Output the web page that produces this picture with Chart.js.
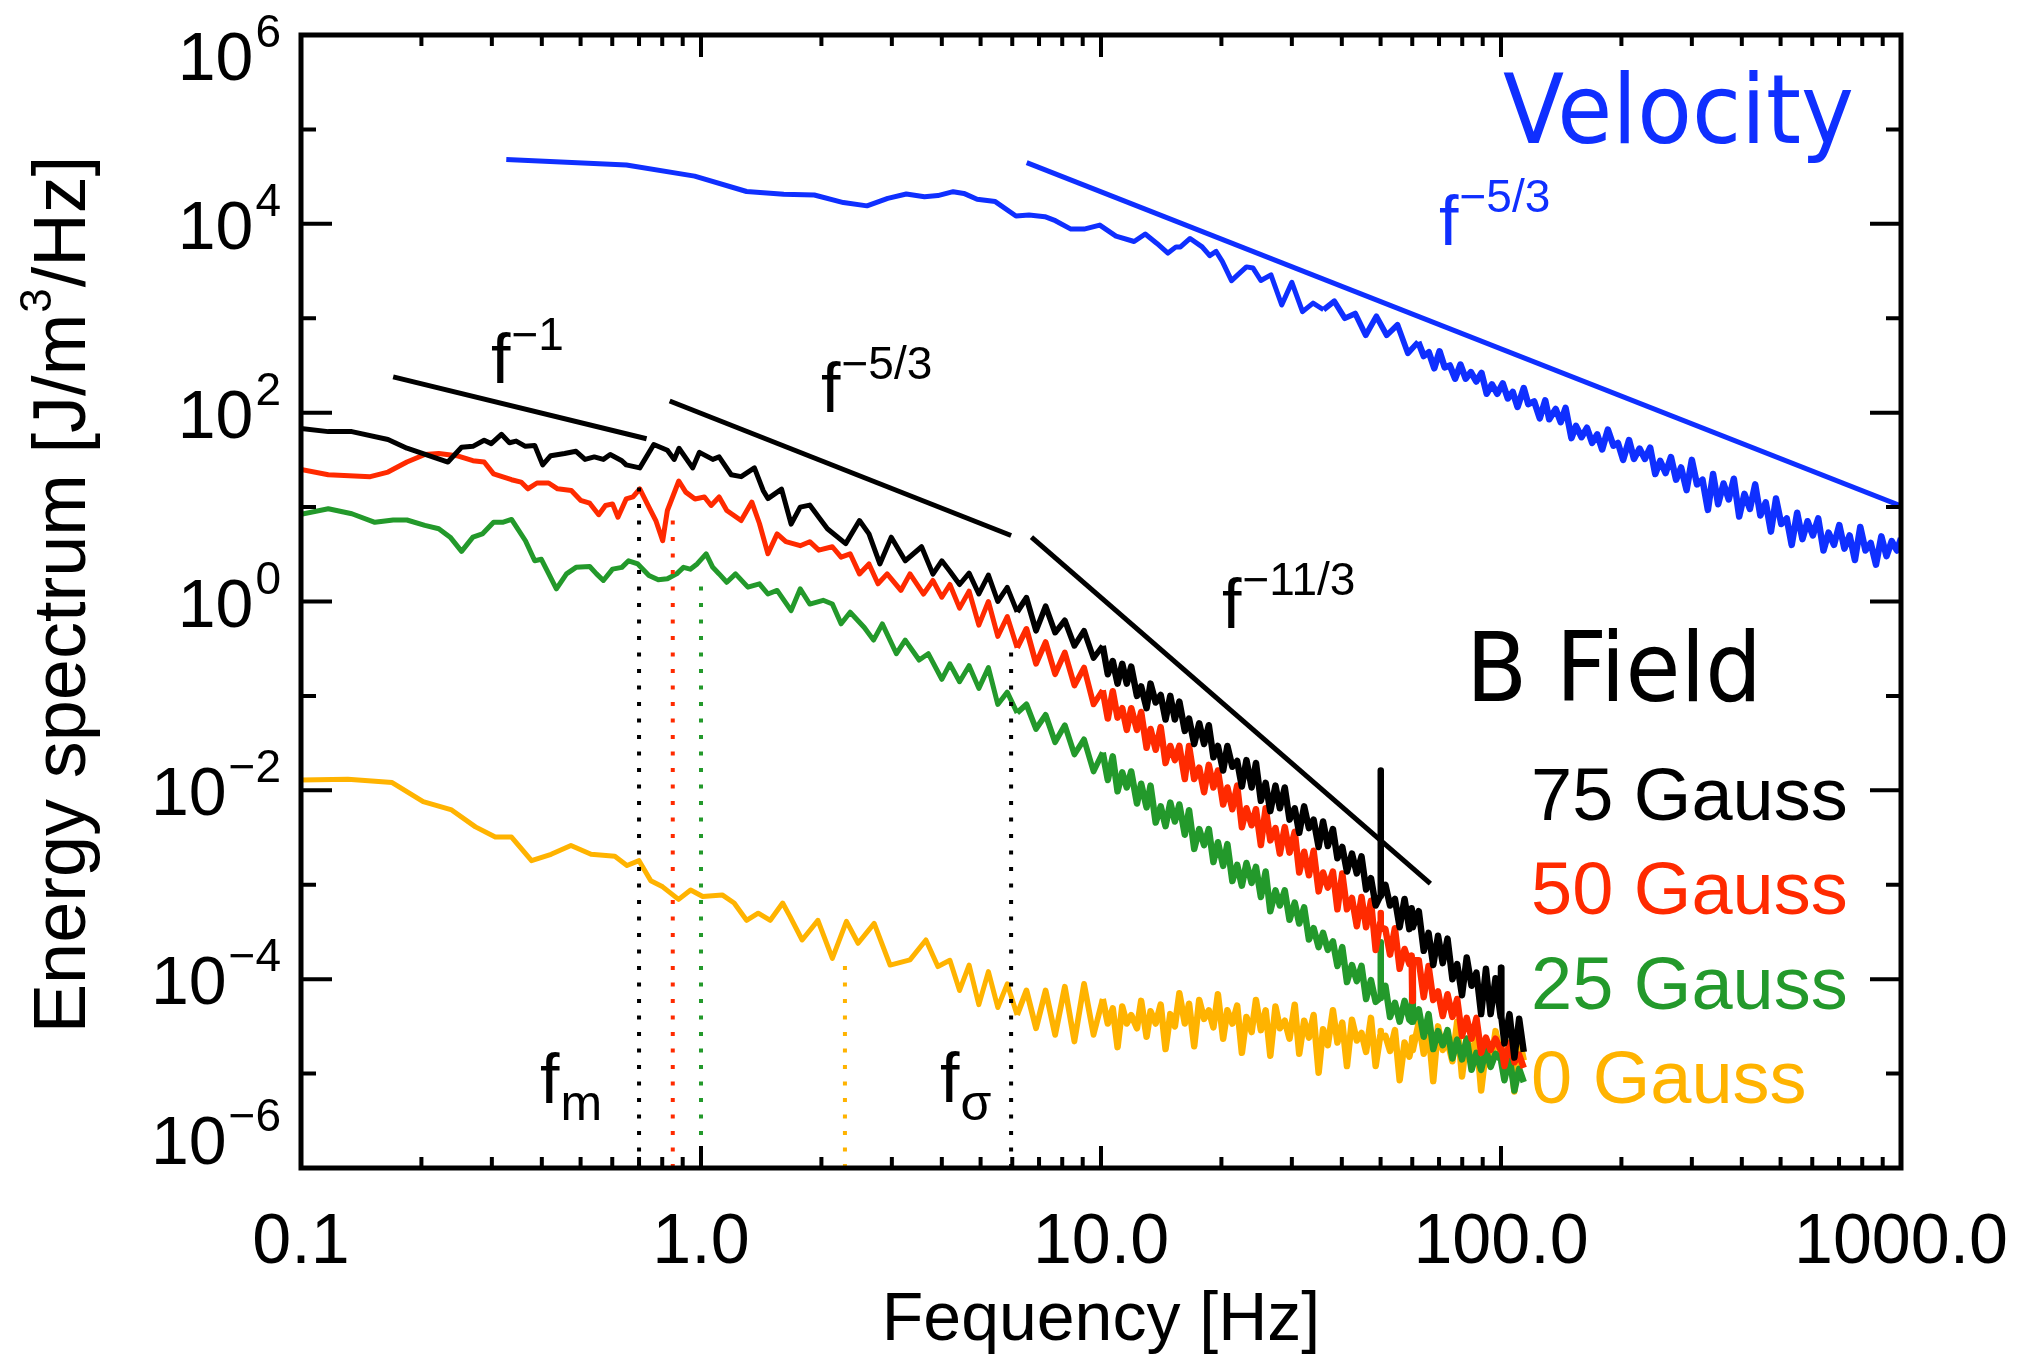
<!DOCTYPE html>
<html>
<head>
<meta charset="utf-8">
<title>Energy spectrum</title>
<script src="https://cdn.jsdelivr.net/npm/chart.js@4.4.0/dist/chart.umd.min.js"></script>
<style>
  html, body { margin: 0; padding: 0; background: #fff; }
  #wrap { width: 2024px; height: 1358px; }
</style>
</head>
<body>
<div id="wrap"><canvas id="chart" width="2024" height="1358"></canvas></div>
<script>
// ---- values (frequency in Hz, spectrum in J/m^3/Hz) ----

// 75 Gauss, low-frequency part
const f75Low = [0.100, 0.117, 0.134, 0.165, 0.184, 0.233, 0.252, 0.269, 0.287, 0.299, 0.317, 0.332, 0.345, 0.364, 0.384, 0.402, 0.421, 0.456, 0.487, 0.513, 0.541, 0.570, 0.593, 0.634, 0.650, 0.676, 0.703, 0.762, 0.824, 0.857, 0.881, 0.953, 0.991, 1.07, 1.11, 1.19, 1.26, 1.36, 1.43, 1.47, 1.59, 1.68, 1.77, 1.87, 1.97, 2.07, 2.30, 2.49, 2.63, 2.80, 2.99, 3.24, 3.56, 3.80, 4.00];
const e75Low = [68, 63, 63, 52, 42, 30, 43, 44, 51, 47, 59, 48, 50, 44, 45, 28, 35, 37, 39, 32, 34, 32, 36, 31, 28, 27, 26, 46, 40, 32, 42, 26, 38, 32, 34, 22, 21, 26, 15, 12.3, 15.5, 6.6, 10, 10.5, 7.8, 5.9, 4.1, 7.2, 5.2, 2.5, 4.8, 2.7, 3.8, 1.95, 2.7];

// 50 Gauss, low-frequency part
const f50Low = [0.100, 0.117, 0.149, 0.165, 0.184, 0.204, 0.221, 0.245, 0.269, 0.287, 0.303, 0.336, 0.355, 0.369, 0.389, 0.416, 0.438, 0.474, 0.500, 0.527, 0.555, 0.577, 0.601, 0.620, 0.650, 0.676, 0.703, 0.741, 0.771, 0.802, 0.824, 0.880, 0.916, 0.966, 1.02, 1.06, 1.11, 1.16, 1.26, 1.34, 1.40, 1.47, 1.55, 1.63, 1.77, 1.87, 1.97, 2.13, 2.24, 2.36, 2.49, 2.63, 2.77, 2.92, 3.16, 3.33, 3.60, 3.80, 4.00];
const e50Low = [25, 22, 21, 23.5, 30, 36, 37, 35, 31, 30, 22.5, 19.5, 18.4, 15.6, 18, 18, 15.6, 15, 11.8, 11, 8.3, 10.4, 10.8, 7.8, 12.2, 12.8, 15.6, 10, 7.2, 4.4, 9.2, 18.9, 14.4, 12.2, 12.8, 10.4, 12.8, 9.2, 7.2, 11.3, 6.7, 3.2, 5.2, 4.3, 3.9, 4.3, 3.5, 3.8, 2.95, 3.2, 1.96, 2.5, 1.54, 1.96, 1.31, 1.96, 1.2, 1.67, 1.11];

// 25 Gauss, low-frequency part
const f25Low = [0.100, 0.117, 0.134, 0.153, 0.170, 0.184, 0.204, 0.221, 0.236, 0.252, 0.269, 0.284, 0.303, 0.319, 0.336, 0.364, 0.384, 0.399, 0.435, 0.461, 0.487, 0.527, 0.548, 0.570, 0.601, 0.634, 0.659, 0.695, 0.741, 0.782, 0.824, 0.869, 0.904, 0.940, 0.978, 1.03, 1.07, 1.11, 1.16, 1.22, 1.31, 1.40, 1.47, 1.55, 1.68, 1.77, 1.87, 2.02, 2.13, 2.24, 2.36, 2.56, 2.70, 2.84, 3.08, 3.24, 3.51, 3.70, 4.00];
const e25Low = [8.4, 9.6, 8.5, 6.9, 7.3, 7.3, 6.4, 5.9, 4.8, 3.4, 4.8, 5.2, 6.9, 6.9, 7.4, 4.4, 2.7, 2.8, 1.36, 1.96, 2.3, 2.35, 1.96, 1.67, 2.2, 2.3, 2.7, 2.5, 1.89, 1.70, 1.74, 1.96, 2.3, 2.2, 2.5, 3.2, 2.3, 1.96, 1.6, 1.96, 1.42, 1.54, 1.2, 1.31, 0.80, 1.36, 0.94, 1.03, 0.94, 0.58, 0.77, 0.53, 0.39, 0.58, 0.28, 0.39, 0.24, 0.28, 0.15];

// 0 Gauss, low-frequency part
const f0Low = [0.100, 0.131, 0.169, 0.202, 0.238, 0.273, 0.306, 0.336, 0.377, 0.422, 0.473, 0.531, 0.609, 0.653, 0.700, 0.749, 0.802, 0.879, 0.942, 1.01, 1.13, 1.21, 1.30, 1.39, 1.49, 1.60, 1.67, 1.79, 1.96, 2.13, 2.31, 2.47, 2.71, 2.97, 3.33, 3.65, 3.91];
const e0Low = [0.0129, 0.0131, 0.0121, 0.0076, 0.0062, 0.0041, 0.0032, 0.0032, 0.0018, 0.0021, 0.0026, 0.0021, 0.0020, 0.0016, 0.0018, 0.0011, 9.5e-4, 7.0e-4, 8.8e-4, 7.5e-4, 7.8e-4, 6.4e-4, 4.2e-4, 5.0e-4, 4.2e-4, 6.4e-4, 4.6e-4, 2.6e-4, 4.2e-4, 1.66e-4, 4.1e-4, 2.4e-4, 3.9e-4, 1.41e-4, 1.60e-4, 2.6e-4, 1.36e-4];

// noisy high-frequency part: shared frequencies, values given as log10 of the spectrum
const fDense = [4.19, 4.43, 4.68, 4.95, 5.23, 5.52, 5.83, 6.17, 6.51, 6.88, 7.27, 7.68, 8.12, 8.58, 9.07, 9.58,
  10.1, 10.4, 10.7, 11.0, 11.3, 11.6, 11.9, 12.3, 12.6, 13.0, 13.3, 13.7, 14.1, 14.5, 14.9, 15.3,
  15.7, 16.2, 16.6, 17.1, 17.6, 18.1, 18.6, 19.1, 19.6, 20.2, 20.7, 21.3, 21.9, 22.5, 23.1, 23.8,
  24.4, 25.1, 25.8, 26.5, 27.3, 28.0, 28.8, 29.6, 30.5, 31.3, 32.2, 33.1, 34.0, 35.0, 35.9, 36.9,
  38.0, 39.0, 40.1, 41.2, 42.4, 43.6, 44.8, 46.0, 47.3, 48.6,
  49.9, 50.0, 50.1,
  51.4, 52.8, 54.3, 55.8, 57.4, 59.0,
  59.8, 60.0, 60.2,
  62.3, 64.1, 65.9, 67.7, 69.6, 71.5, 73.5, 75.6, 77.7, 79.9, 82.1, 84.4, 86.8, 89.2, 91.7, 94.2, 96.9,
  99.8, 100, 100.2,
  102, 105, 108, 111, 114];
const log75Dense = [0.32, 0.18, 0.30, 0.08, 0.28, 0.0, 0.15, -0.11, 0.04, -0.31, -0.05, -0.33, -0.20, -0.47, -0.31, -0.60,
  -0.47, -0.77, -0.63, -0.87, -0.66, -0.87, -0.69, -1.00, -0.90, -1.13, -0.87, -1.07, -0.99, -1.25, -1.00, -1.25,
  -1.06, -1.37, -1.24, -1.51, -1.29, -1.51, -1.31, -1.65, -1.53, -1.79, -1.53, -1.75, -1.69, -1.96, -1.68, -1.97,
  -1.71, -2.11, -1.92, -2.22, -1.95, -2.19, -1.97, -2.31, -2.19, -2.45, -2.17, -2.40, -2.31, -2.60, -2.33, -2.59,
  -2.41, -2.72, -2.60, -2.86, -2.67, -2.88, -2.70, -3.05, -2.93, -3.22,
  -3.12, -1.79, -3.12,
  -3.00, -3.22, -3.15, -3.45, -3.15, -3.47,
  -3.25, -3.30, -3.45,
  -3.28, -3.70, -3.51, -3.85, -3.54, -3.83, -3.57, -4.00, -3.84, -4.17, -3.77, -4.07, -3.93, -4.37, -3.89, -4.37, -3.99,
  -4.40, -3.88, -4.40,
  -4.68, -4.37, -4.83, -4.42, -4.77];
const log50Dense = [0.18, -0.07, 0.11, -0.25, 0.0, -0.37, -0.16, -0.49, -0.29, -0.66, -0.43, -0.77, -0.54, -0.89, -0.70, -1.09,
  -0.94, -1.24, -0.95, -1.23, -1.13, -1.36, -1.13, -1.36, -1.17, -1.55, -1.35, -1.57, -1.33, -1.71, -1.53, -1.68,
  -1.53, -1.88, -1.53, -1.88, -1.76, -2.02, -1.73, -1.97, -1.79, -2.15, -1.97, -2.20, -1.95, -2.39, -2.19, -2.37,
  -2.20, -2.58, -2.19, -2.53, -2.40, -2.67, -2.39, -2.66, -2.44, -2.87, -2.65, -2.90, -2.64, -3.07, -2.87, -3.03,
  -2.86, -3.26, -2.88, -3.26, -3.14, -3.44, -3.13, -3.45, -3.17, -3.69,
  -3.40, -3.30, -3.45,
  -3.47, -3.74, -3.46, -3.89, -3.68, -3.84,
  -3.75, -4.23, -3.80,
  -3.80, -4.19, -3.86, -4.22, -4.13, -4.39, -4.16, -4.40, -4.21, -4.60, -4.41, -4.63, -4.41, -4.78, -4.62, -4.75, -4.63,
  -4.75, -4.70, -4.72,
  -4.92, -4.68, -4.88, -4.80, -4.94];
const log25Dense = [-0.66, -0.85, -0.68, -0.92, -0.70, -1.09, -0.96, -1.18, -1.09, -1.35, -1.20, -1.49, -1.31, -1.62, -1.46, -1.80,
  -1.60, -1.89, -1.64, -2.01, -1.81, -1.97, -1.80, -2.14, -1.93, -2.18, -1.95, -2.34, -2.17, -2.38, -2.13, -2.33,
  -2.15, -2.47, -2.21, -2.62, -2.41, -2.58, -2.41, -2.76, -2.55, -2.80, -2.57, -2.96, -2.79, -3.01, -2.77, -2.98,
  -2.81, -3.13, -2.86, -3.28, -3.06, -3.22, -3.06, -3.37, -3.19, -3.41, -3.24, -3.58, -3.46, -3.66, -3.51, -3.69,
  -3.60, -3.86, -3.66, -4.03, -3.85, -4.02, -3.86, -4.21, -4.01, -4.24,
  -4.20, -3.61, -4.20,
  -4.07, -4.40, -4.25, -4.45, -4.23, -4.43,
  -4.45, -4.12, -4.45,
  -4.32, -4.61, -4.37, -4.74, -4.55, -4.70, -4.54, -4.84, -4.64, -4.85, -4.63, -4.96, -4.78, -4.96, -4.75, -4.93, -4.79,
  -4.85, -4.82, -4.88,
  -5.07, -4.82, -5.18, -4.95, -5.09];
const log0Dense = [-3.80, -4.12, -3.85, -4.27, -3.92, -4.30, -4.05, -4.38, -4.12, -4.52, -4.12, -4.59, -4.08, -4.66, -4.05, -4.59,
  -4.21, -4.47, -4.31, -4.72, -4.29, -4.47, -4.38, -4.52, -4.23, -4.61, -4.34, -4.47, -4.27, -4.74, -4.37, -4.50,
  -4.15, -4.47, -4.26, -4.71, -4.22, -4.42, -4.33, -4.51, -4.16, -4.63, -4.33, -4.47, -4.28, -4.78, -4.40, -4.56,
  -4.22, -4.54, -4.33, -4.81, -4.29, -4.52, -4.44, -4.63, -4.27, -4.79, -4.44, -4.62, -4.38, -4.99, -4.53, -4.70,
  -4.33, -4.67, -4.46, -4.92, -4.43, -4.65, -4.57, -4.77, -4.41, -4.92,
  -4.60, -4.55, -4.62,
  -4.60, -4.76, -4.54, -5.07, -4.67, -4.82,
  -4.70, -4.62, -4.75,
  -4.46, -4.79, -4.55, -5.08, -4.50, -4.75, -4.66, -4.87, -4.45, -5.03, -4.63, -4.83, -4.59, -5.18, -4.75, -4.92, -4.55,
  -4.80, -4.75, -4.85,
  -4.90, -4.67, -5.19, -4.62, -4.86];

// velocity spectrum
const fVelLow = [0.326, 0.651, 0.964, 1.30, 1.61, 1.92, 2.27, 2.60, 2.93, 3.26, 3.62, 3.91, 4.27, 4.54, 4.90, 5.44, 6.13, 6.61, 7.24, 7.69, 8.41, 9.07, 9.93, 10.9, 12.1, 12.9, 13.8, 14.7, 15.4, 15.8, 16.7, 17.9, 18.7, 19.4, 20.1, 21.2, 22.0, 23.1, 24.0];
const eVelLow = [4.8e4, 4.2e4, 3.2e4, 2.2e4, 2.06e4, 2.02e4, 1.68e4, 1.55e4, 1.86e4, 2.07e4, 1.94e4, 1.99e4, 2.19e4, 2.1e4, 1.82e4, 1.72e4, 1.21e4, 1.24e4, 1.19e4, 1.08e4, 8.8e3, 8.8e3, 9.7e3, 7.4e3, 6.5e3, 7.8e3, 6.2e3, 4.9e3, 5.7e3, 5.7e3, 7.0e3, 5.7e3, 4.6e3, 5.1e3, 4.0e3, 2.5e3, 2.9e3, 3.5e3, 3.4e3];
const fVelDense = [25.1, 26.6, 28.3, 30.0, 31.9, 33.9, 36.0, 38.3, 40.7, 43.2, 45.9, 48.8, 51.8, 55.1, 58.5,
  62.1, 64.1, 66.0, 68.1, 70.2, 72.3, 74.5, 76.8, 79.2, 81.6, 84.1, 86.7, 89.4, 92.1, 94.9, 97.9, 101,
  104, 107, 110, 114, 117, 121, 125, 129, 132, 137, 141, 145, 150, 154, 159, 164,
  169, 174, 179, 185, 191, 196, 202, 209, 215, 222, 229, 236, 243, 250, 258, 266,
  274, 282, 291, 300, 309, 319, 329, 339, 349, 360, 371, 382, 394, 406, 419, 432,
  445, 459, 473, 487, 502, 518, 533, 550, 567, 584, 602, 621, 640, 659, 680, 701,
  722, 744, 767, 791, 815, 840, 866, 893, 920, 948, 977, 1000];
const logVelDense = [3.40, 3.46, 3.14, 3.38, 3.07, 3.16, 3.09, 3.18, 3.00, 3.05, 2.82, 3.02, 2.82, 2.93, 2.63,
  2.75, 2.60, 2.64, 2.47, 2.65, 2.48, 2.50, 2.36, 2.51, 2.36, 2.43, 2.33, 2.42, 2.20, 2.30, 2.20, 2.31,
  2.15, 2.22, 2.06, 2.26, 2.09, 2.12, 1.94, 2.13, 1.93, 2.04, 1.90, 2.05, 1.73, 1.86, 1.74, 1.84,
  1.68, 1.77, 1.61, 1.82, 1.65, 1.68, 1.50, 1.71, 1.51, 1.62, 1.51, 1.63, 1.35, 1.49, 1.36, 1.53,
  1.29, 1.42, 1.18, 1.50, 1.24, 1.29, 0.97, 1.35, 1.03, 1.25, 1.08, 1.30, 0.90, 1.14, 0.98, 1.24,
  0.91, 1.05, 0.74, 1.09, 0.82, 0.88, 0.60, 0.94, 0.66, 0.85, 0.70, 0.88, 0.54, 0.73, 0.60, 0.81,
  0.56, 0.70, 0.44, 0.79, 0.54, 0.62, 0.39, 0.69, 0.48, 0.64, 0.54, 0.67];

// power-law guide lines: [start, end]
const fitLowF = [0.170, 0.731],  fitLowE = [239, 53];        // f^-1
const fitMidF = [0.835, 5.96],   fitMidE = [133, 5.0];       // f^-5/3
const fitHighF = [6.7, 66.6],    fitHighE = [4.8, 1.03e-3];  // f^-11/3
const fitVelF = [6.52, 1000],    fitVelE = [4.45e4, 10.3];   // f^-5/3 (velocity)

// dotted markers: frequency and top value
const markF = [0.70, 0.85, 1.0, 2.29, 5.96];
const markTop = [17.7, 8.2, 1.6, 1.4e-4, 0.38];

// axes
const xTickValues = [0.1, 1, 10, 100, 1000];
const xTickLabels = ['0.1', '1.0', '10.0', '100.0', '1000.0'];
const yTickExps = [6, 4, 2, 0, -2, -4, -6];

const legendNames = ['75 Gauss', '50 Gauss', '25 Gauss', '0 Gauss'];

// ---- styling ----
const C_BLACK = '#000000';
const C_RED = '#ff2a00';
const C_GREEN = '#23992b';
const C_ORANGE = '#ffb300';
const C_BLUE = '#0f2fff';
const FONT = '"Liberation Sans", Arial, Helvetica, sans-serif';
const HAND = '"Comic Sans MS", "DejaVu Sans", sans-serif';

const pts = (fs, es) => fs.map((f, i) => ({ x: f, y: es[i] }));
const unlog = arr => arr.map(v => Math.pow(10, v));

// denseFrom: frequency above which the noisy part is drawn with a heavier pen
function curve(label, data, color, width, order, dash, denseFrom) {
  const set = {
    label,
    data,
    borderColor: color,
    borderWidth: width,
    borderDash: dash || [],
    borderCapStyle: 'butt',
    borderJoinStyle: dash ? 'miter' : 'round',
    pointRadius: 0,
    tension: 0,
    fill: false,
    order
  };
  if (denseFrom) {
    set.segment = {
      borderWidth: c => {
        const f = c.p0.parsed.x;
        if (f >= denseFrom) return width + 1.5;
        if (f >= denseFrom * 0.6) return width + 0.75;
        return width;
      }
    };
  }
  return set;
}

const markColors = [C_BLACK, C_RED, C_GREEN, C_ORANGE, C_BLACK];
const markSets = markF.map((f, i) =>
  curve('mark' + i, [{ x: f, y: 1e-6 }, { x: f, y: markTop[i] }], markColors[i], 4, 2, [4, 12.5]));

const datasets = [
  curve('fit -1', pts(fitLowF, fitLowE), C_BLACK, 5, 1),
  curve('fit -5/3', pts(fitMidF, fitMidE), C_BLACK, 5, 1),
  curve('fit -11/3', pts(fitHighF, fitHighE), C_BLACK, 5, 1),
  curve('fit vel', pts(fitVelF, fitVelE), C_BLUE, 5, 1),
  ...markSets,
  curve('Velocity', pts(fVelLow.concat(fVelDense), eVelLow.concat(unlog(logVelDense))), C_BLUE, 5, 3, null, 60),
  curve('75 Gauss', pts(f75Low.concat(fDense), e75Low.concat(unlog(log75Dense))), C_BLACK, 5, 3, null, 9.9),
  curve('50 Gauss', pts(f50Low.concat(fDense), e50Low.concat(unlog(log50Dense))), C_RED, 5, 4, null, 9.9),
  curve('25 Gauss', pts(f25Low.concat(fDense), e25Low.concat(unlog(log25Dense))), C_GREEN, 5, 5, null, 9.9),
  curve('0 Gauss', pts(f0Low.concat(fDense), e0Low.concat(unlog(log0Dense))), C_ORANGE, 5, 6, null, 9.9)
];

// text with a raised (or lowered) smaller part
function textWithScript(ctx, x, base, main, small, shift, bigPx, smallPx, color) {
  ctx.fillStyle = color;
  ctx.textAlign = 'left';
  ctx.font = bigPx + 'px ' + FONT;
  ctx.fillText(main, x, base);
  const w = ctx.measureText(main).width;
  ctx.font = smallPx + 'px ' + FONT;
  ctx.fillText(small, x + w + 1, base + shift);
}

// hand-lettered titles, squeezed to the width they take in the figure
function fittedText(ctx, text, x, base, width, px, color) {
  ctx.save();
  ctx.font = px + 'px ' + HAND;
  ctx.fillStyle = color;
  ctx.textAlign = 'left';
  const w = ctx.measureText(text).width;
  ctx.translate(x, base);
  ctx.scale(width / w, 1);
  ctx.fillText(text, 0, 0);
  ctx.restore();
}

const idlFrame = {
  id: 'idlFrame',
  beforeDraw(chart) {
    const { ctx, width, height } = chart;
    ctx.save();
    ctx.fillStyle = '#fff';
    ctx.fillRect(0, 0, width, height);
    ctx.restore();
  },
  afterDatasetsDraw(chart) {
    const { ctx, chartArea: a, scales: { x, y } } = chart;
    ctx.save();
    ctx.strokeStyle = '#000';
    ctx.fillStyle = '#000';
    ctx.textBaseline = 'alphabetic';

    // inward ticks on all four sides
    ctx.lineWidth = 4;
    ctx.beginPath();
    for (let d = -1; d <= 3; d++) {
      for (let k = 1; k <= 9; k++) {
        const v = k * Math.pow(10, d);
        if (v > 1000) break;
        const px = x.getPixelForValue(v);
        const len = k === 1 ? 22 : 11;
        ctx.moveTo(px, a.bottom); ctx.lineTo(px, a.bottom - len);
        ctx.moveTo(px, a.top); ctx.lineTo(px, a.top + len);
      }
    }
    for (let e = -6; e <= 6; e++) {
      const py = y.getPixelForValue(Math.pow(10, e));
      const len = e % 2 === 0 ? 31 : 15;
      ctx.moveTo(a.left, py); ctx.lineTo(a.left + len, py);
      ctx.moveTo(a.right, py); ctx.lineTo(a.right - len, py);
    }
    ctx.stroke();

    // frame
    ctx.lineWidth = 5;
    ctx.strokeRect(a.left, a.top, a.right - a.left, a.bottom - a.top);

    // x tick labels
    ctx.font = '70px ' + FONT;
    ctx.textAlign = 'center';
    xTickValues.forEach((v, i) => {
      ctx.fillText(xTickLabels[i], x.getPixelForValue(v), a.bottom + 95);
    });

    // y tick labels 10^n
    yTickExps.forEach(e => {
      const py = y.getPixelForValue(Math.pow(10, e));
      const base = Math.min(Math.max(py + 25, a.top + 45), a.bottom - 4);
      const sup = e < 0 ? '\u2212' + (-e) : String(e);
      ctx.textAlign = 'right';
      ctx.font = '46px ' + FONT;
      ctx.fillText(sup, a.left - 20, base - 33);
      const w = ctx.measureText(sup).width;
      ctx.font = '68px ' + FONT;
      ctx.fillText('10', a.left - 22 - w, base);
    });

    // axis titles
    ctx.textAlign = 'center';
    ctx.font = '68px ' + FONT;
    ctx.fillText('Fequency [Hz]', (a.left + a.right) / 2, a.bottom + 172);

    ctx.save();
    ctx.translate(85, (a.top + a.bottom) / 2 - 6);
    ctx.rotate(-Math.PI / 2);
    const p1 = 'Energy spectrum [J/m', p2 = '3', p3 = '/Hz]';
    ctx.font = '74px ' + FONT;
    const w1 = ctx.measureText(p1).width, w3 = ctx.measureText(p3).width;
    ctx.font = '44px ' + FONT;
    const w2 = ctx.measureText(p2).width;
    const sx = -(w1 + w2 + w3) / 2;
    ctx.textAlign = 'left';
    ctx.font = '74px ' + FONT;
    ctx.fillText(p1, sx, 0);
    ctx.font = '44px ' + FONT;
    ctx.fillText(p2, sx + w1 + 1, -34);
    ctx.font = '74px ' + FONT;
    ctx.fillText(p3, sx + w1 + w2 + 2, 0);
    ctx.restore();

    // power-law labels
    textWithScript(ctx, 491, 383, 'f', '\u22121', -33, 70, 46, C_BLACK);
    textWithScript(ctx, 821, 412, 'f', '\u22125/3', -33, 70, 46, C_BLACK);
    textWithScript(ctx, 1222, 628, 'f', '\u221211/3', -33, 70, 46, C_BLACK);
    textWithScript(ctx, 1439, 245, 'f', '\u22125/3', -33, 70, 46, C_BLUE);

    // characteristic frequencies
    textWithScript(ctx, 540, 1103, 'f', 'm', 17, 70, 50, C_BLACK);
    textWithScript(ctx, 940, 1102, 'f', '\u03c3', 18, 70, 50, C_BLACK);

    // titles
    fittedText(ctx, 'Velocity', 1503, 143, 351, 96, C_BLUE);
    fittedText(ctx, 'B Field', 1466, 701, 296, 96, C_BLACK);

    // legend
    const legendColors = [C_BLACK, C_RED, C_GREEN, C_ORANGE];
    ctx.textAlign = 'left';
    ctx.font = '74px ' + FONT;
    legendNames.forEach((name, i) => {
      ctx.fillStyle = legendColors[i];
      ctx.fillText(name, 1531, 820 + i * 94.4);
    });

    ctx.restore();
  }
};

new Chart(document.getElementById('chart'), {
  type: 'line',
  data: { datasets },
  options: {
    responsive: false,
    devicePixelRatio: 1,
    animation: false,
    events: [],
    layout: { padding: { left: 301, right: 123, top: 35, bottom: 190 } },
    scales: {
      x: { type: 'logarithmic', min: 0.1, max: 1000, display: false },
      y: { type: 'logarithmic', min: 1e-6, max: 1e6, display: false }
    },
    plugins: {
      legend: { display: false },
      tooltip: { enabled: false }
    }
  },
  plugins: [idlFrame]
});
</script>
</body>
</html>
